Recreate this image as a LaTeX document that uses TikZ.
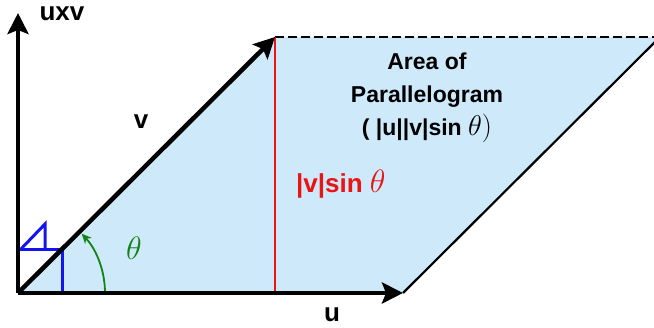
\documentclass[tikz,border=0pt]{standalone}
\usepackage{graphicx}
\usepackage{fontspec}
\setmainfont{Liberation Sans}
\usetikzlibrary{arrows.meta}
\definecolor{parafill}{RGB}{205,233,250}
\definecolor{myred}{RGB}{235,20,20}
\definecolor{mygreen}{RGB}{20,130,20}
\definecolor{myblue}{RGB}{20,20,240}
\newcommand\bigth{\scalebox{1.3}{$\theta$}}
\tikzset{
  vec/.style={line width=4.5pt,-{Stealth[length=21pt,width=21pt,inset=4pt]}},
  lbl/.style={font=\fontsize{26}{28}\selectfont\bfseries,inner sep=0pt,anchor=base},
  arealbl/.style={font=\fontsize{23}{26}\selectfont\bfseries,inner sep=0pt,anchor=base},
}
\begin{document}
\begin{tikzpicture}[x=1pt,y=-1pt]
\useasboundingbox (0,0) rectangle (654,328);
\clip (0,0) rectangle (654,328);
\coordinate (O) at (18,293);
\coordinate (U) at (403,293);
\coordinate (V) at (275,37);
\coordinate (W) at (660,37);
\coordinate (Z) at (18,13);
\coordinate (H) at (275,293);
% parallelogram fill
\fill[parafill] (O) -- (U) -- (W) -- (V) -- cycle;
\draw[line width=2.2pt] (U) -- (W);
\draw[line width=2.2pt,dash pattern=on 9pt off 4pt] (V) -- (W);
% height
\draw[myred,line width=2.7pt] (V) -- (H);
% right angle marks
\draw[myblue,line width=3pt] (62,293) -- (62,250) -- (19,250);
\draw[myblue,line width=3pt] (20,250) -- (45,224) -- (45,250);
% angle arc
\draw[mygreen,line width=1.8pt,-{Stealth[length=10pt,width=9pt]}] (105,293) arc[start angle=0,end angle=43,radius=87pt];
% vectors
\draw[vec] (O) -- (Z);
\draw[vec] (O) -- (V);
\draw[vec] (O) -- (U);
% labels
\node[lbl] (luxv) at (62,21) {uxv};
\node[lbl] (lv) at (141,129) {v};
\node[lbl] (lu) at (332,322) {u};
\node[text=mygreen,font=\fontsize{26}{28}\selectfont,inner sep=0pt] (lth) at (134,248) {\bigth};
\node[lbl,text=myred,anchor=base west] (lh) at (296,193) {|v|sin \bigth};
\node[arealbl] (a1) at (427,70) {Area of};
\node[arealbl] (a2) at (427,103) {Parallelogram};
\node[arealbl] (a3) at (427,136) {( |u||v|sin \scalebox{1.15}{$\theta)$}};
\end{tikzpicture}
\end{document}
